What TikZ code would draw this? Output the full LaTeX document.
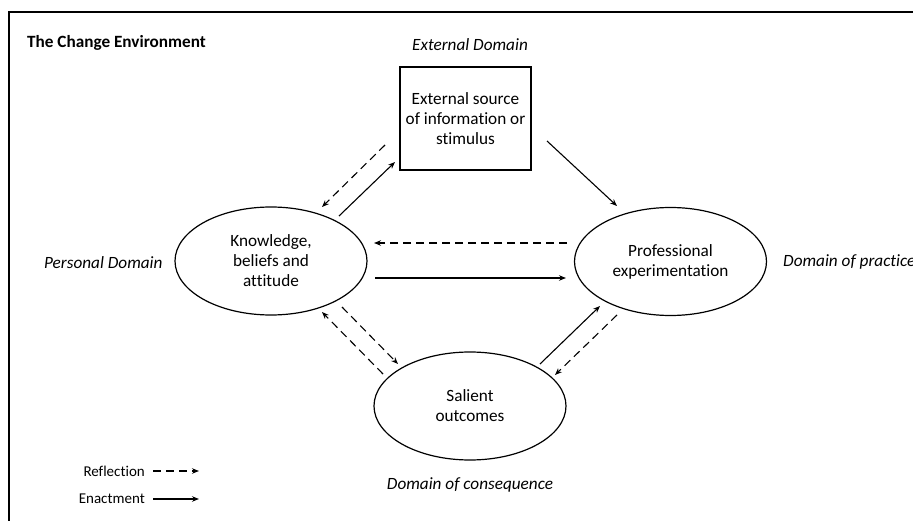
\documentclass[tikz,border=0pt]{standalone}
\usepackage{fontspec}
\setmainfont{Carlito}[Ligatures=NoCommon]
\usetikzlibrary{shapes.geometric,arrows.meta}
\begin{document}
\begin{tikzpicture}[x=1pt,y=-1pt,
  txt/.style={font=\fontsize{17.2}{20}\selectfont, align=center, inner sep=0pt},
  ell/.style={draw, ellipse, line width=1.2pt, minimum width=192pt, minimum height=108pt, txt},
  boxnode/.style={draw, line width=1.3pt, minimum width=131pt, minimum height=103pt, txt},
  lab/.style={font=\fontsize{17.2}{20}\selectfont\itshape, inner sep=0pt},
  leg/.style={font=\fontsize{15}{16}\selectfont, inner sep=0pt, anchor=east},
  enact/.style={line width=1.1pt, -{Stealth[length=7pt,width=5.5pt]}},
  reflect/.style={enact, dash pattern=on 8pt off 5pt}]
\useasboundingbox (0,0) rectangle (913,521);
\draw[line width=2.2pt] (9,12) rectangle (940,560);

\node[font=\fontsize{17.2}{20}\selectfont\bfseries, anchor=west, inner sep=0pt] (title) at (27,43) {The Change Environment};
\node[lab] (extdom) at (470,45) {External Domain};
\node[lab, anchor=west] (persdom) at (44,263) {Personal Domain};
\node[lab, anchor=west] (pracdom) at (783,262) {Domain of practice};
\node[lab] (consdom) at (470,485) {Domain of consequence};

\node[boxnode] (ext) at (465.5,118.5) {External source\\of information or\\stimulus};
\node[ell] (know) at (271,261) {Knowledge,\\beliefs and\\attitude};
\node[ell] (prof) at (670.5,261.5) {Professional\\experimentation};
\node[ell] (sal) at (470,406) {Salient\\outcomes};

% endpoints
\coordinate (a1s) at (385,145); \coordinate (a1e) at (322,207);
\coordinate (a2s) at (339,216); \coordinate (a2e) at (395,162);
\coordinate (a3s) at (547,141); \coordinate (a3e) at (617,206);
\coordinate (a4s) at (567,243); \coordinate (a4e) at (374,243);
\coordinate (a5s) at (375,278); \coordinate (a5e) at (566,278);
\coordinate (a6s) at (383,374); \coordinate (a6e) at (322,312);
\coordinate (a7s) at (342,307); \coordinate (a7e) at (398,364);
\coordinate (a8s) at (540,364); \coordinate (a8e) at (600,306);
\coordinate (a9s) at (617,315); \coordinate (a9e) at (555,375);

\draw[reflect] (a1s) -- (a1e);
\draw[enact] (a2s) -- (a2e);
\draw[enact] (a3s) -- (a3e);
\draw[reflect] (a4s) -- (a4e);
\draw[enact] (a5s) -- (a5e);
\draw[reflect] (a6s) -- (a6e);
\draw[reflect] (a7s) -- (a7e);
\draw[enact] (a8s) -- (a8e);
\draw[reflect] (a9s) -- (a9e);

% legend
\node[leg] (refl) at (145,471) {Reflection};
\node[leg] (enac) at (145,499) {Enactment};
\coordinate (l1e) at (199,471);
\coordinate (l2e) at (199,499);
\draw[reflect] ([xshift=8pt]refl.east) -- (l1e);
\draw[enact] ([xshift=8pt]enac.east) -- (l2e);
\end{tikzpicture}
\end{document}
